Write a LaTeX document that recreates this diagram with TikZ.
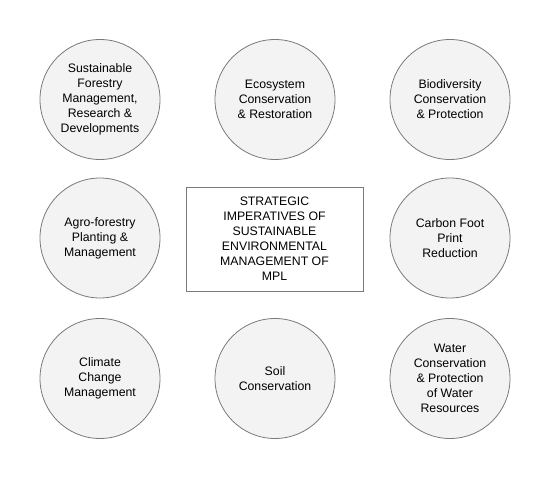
\documentclass[tikz,border=0pt]{standalone}
\usepackage{fontspec}
\setmainfont{Liberation Sans}
\usepackage{xcolor}
\definecolor{bubblefill}{HTML}{F3F3F3}
\definecolor{edgegray}{HTML}{7A7A7A}

\tikzset{
  bubble/.style={circle, draw=edgegray, fill=bubblefill, line width=0.8bp,
    minimum size=120bp, inner sep=0pt, align=center,
    font=\fontsize{12.3bp}{15bp}\selectfont},
  centrebox/.style={rectangle, draw=edgegray, fill=white, line width=0.8bp,
    minimum width=177bp, minimum height=104bp, inner sep=0pt, align=center,
    font=\fontsize{12.3bp}{15bp}\selectfont}
}

\begin{document}
\begin{tikzpicture}[x=1bp,y=-1bp]
    \useasboundingbox (0,0) rectangle (550,480);
    % 定义九个位置
    \coordinate (P1) at (100,99.5);
    \coordinate (P2) at (275,99.5);
    \coordinate (P3) at (450,99.5);
    \coordinate (P4) at (100,238);
    \coordinate (P5) at (274.5,239);
    \coordinate (P6) at (450,238);
    \coordinate (P7) at (100,378.5);
    \coordinate (P8) at (275,378.5);
    \coordinate (P9) at (450,378.5);

    % 中间的方框
    \node[centrebox] (core) at (P5) {STRATEGIC\\IMPERATIVES OF\\SUSTAINABLE\\ENVIRONMENTAL\\MANAGEMENT OF\\MPL};

    % 周围的圆
    \node[bubble] (forestry) at (P1) {Sustainable\\Forestry\\Management,\\Research \&\\Developments};
    \node[bubble] (ecosystem) at (P2) {Ecosystem\\Conservation\\\& Restoration};
    \node[bubble] (biodiv) at (P3) {Biodiversity\\Conservation\\\& Protection};
    \node[bubble] (agro) at (P4) {Agro-forestry\\Planting \&\\Management};
    \node[bubble] (carbon) at (P6) {Carbon Foot\\Print\\Reduction};
    \node[bubble] (climate) at (P7) {Climate\\Change\\Management};
    \node[bubble] (soil) at (P8) {Soil\\Conservation};
    \node[bubble] (water) at (P9) {Water\\Conservation\\\& Protection\\of Water\\Resources};
\end{tikzpicture}
\end{document}
